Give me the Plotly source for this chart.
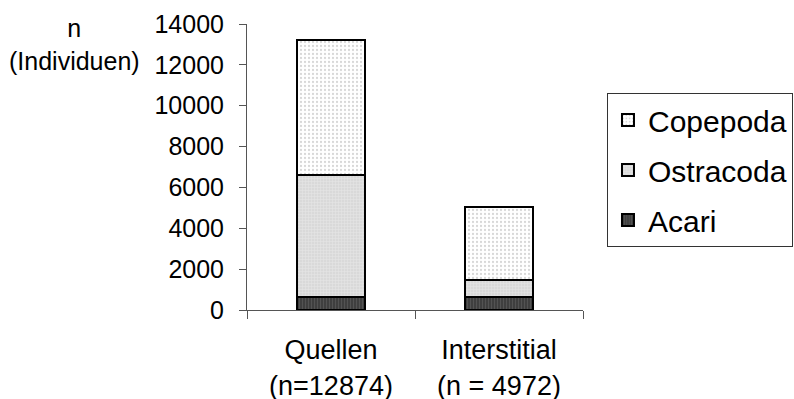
import plotly.graph_objects as go

categories = ["Quellen", "Interstitial"]
tick_labels = ["Quellen<br>(n=12874)", "Interstitial<br>(n = 4972)"]
acari = [640, 650]
ostracoda = [5980, 820]
copepoda = [6580, 3590]

FONT = "Arial, Liberation Sans, sans-serif"

fig = go.Figure()
fig.add_trace(go.Bar(
    name="Acari", x=categories, y=acari, legendgroup="a", legendrank=3,
    marker=dict(color="#454545", line=dict(color="black", width=2),
                pattern=dict(shape="|", fgcolor="#6a6a6a", bgcolor="#3c3c3c", size=3, solidity=0.4)),
))
fig.add_trace(go.Bar(
    name="Ostracoda", x=categories, y=ostracoda, legendgroup="o", legendrank=2,
    marker=dict(color="#e2e2e2", line=dict(color="black", width=2),
                pattern=dict(shape="+", fgcolor="#f4f4f4", bgcolor="#d9d9d9", size=3, solidity=0.3)),
))
fig.add_trace(go.Bar(
    name="Copepoda", x=categories, y=copepoda, legendgroup="c", legendrank=1,
    marker=dict(color="#ffffff", line=dict(color="black", width=2),
                pattern=dict(shape=".", fgcolor="#b0b0b0", bgcolor="#ffffff", size=4, solidity=0.25)),
))

fig.update_layout(
    width=794, height=399,
    margin=dict(l=247, r=211, t=24, b=89, autoexpand=False),
    barmode="stack", bargap=0.59,
    plot_bgcolor="white", paper_bgcolor="white",
    font=dict(family=FONT, color="black", size=25),
    showlegend=True,
    legend=dict(
        x=1.0714, y=0.7585, xanchor="left", yanchor="top",
        traceorder="grouped", tracegroupgap=8,
        bordercolor="#333333", borderwidth=1, bgcolor="white",
        font=dict(family=FONT, size=30, color="black"),
    ),
    xaxis=dict(
        tickmode="array", tickvals=categories, ticktext=tick_labels,
        tickson="boundaries", ticks="outside", ticklen=8, tickcolor="#555555",
        showline=True, linecolor="#555555", linewidth=1,
        showgrid=False, tickfont=dict(size=27, family=FONT),
        ticklabelstandoff=16,
    ),
    yaxis=dict(
        range=[0, 14000], dtick=2000, tickformat="d", ticks="outside", ticklen=7, tickcolor="#555555",
        showline=True, linecolor="#555555", linewidth=1,
        showgrid=False, zeroline=False, tickfont=dict(size=25, family=FONT),
        ticklabelstandoff=10,
    ),
)

fig.add_annotation(
    text="n<br>(Individuen)", xref="paper", yref="paper",
    x=-0.512, y=0.93, xanchor="center", yanchor="middle",
    showarrow=False, font=dict(size=25, family=FONT, color="black"),
)

fig.write_html("out.html", config={"displayModeBar": False},
               post_script="document.body.style.margin='0';")
